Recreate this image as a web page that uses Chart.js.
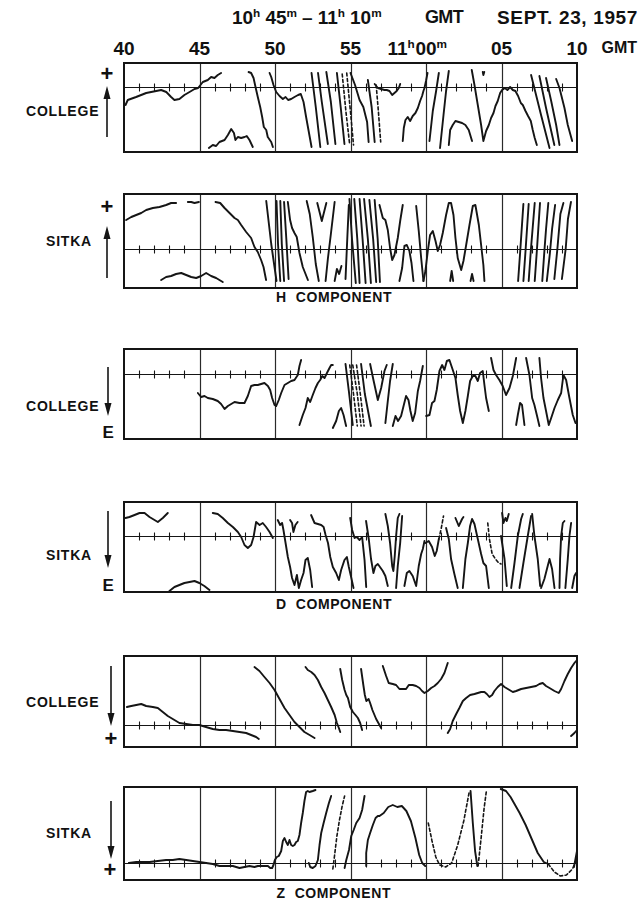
<!DOCTYPE html>
<html>
<head>
<meta charset="utf-8">
<script src="https://cdn.jsdelivr.net/npm/chart.js@4/dist/chart.umd.min.js"></script>
<style>
html,body{margin:0;padding:0;background:#fff;}
#page{position:relative;width:643px;height:908px;overflow:hidden;font-family:"Liberation Sans",Arial,sans-serif;font-weight:bold;color:#111;}
.t{position:absolute;white-space:nowrap;line-height:1;}
.sup{font-size:0.62em;position:relative;top:-0.6em;}
canvas{position:absolute;}
</style>
</head>
<body>
<div id="page">
  <div id="labels"></div>
  <svg id="arrows" width="643" height="908" style="position:absolute;left:0;top:0"></svg>
</div>
<script>
// Time axis: minutes after 10h (40 … 70 = 11h10m)
const sectionMinutes = [45, 50, 55, 60, 65];
const labelMinutes   = [40, 45, 50, 55, 60, 65, 70];
const minuteLabels   = ['40', '45', '50', '55', '00', '05', '10'];

// ---------- H component, College (deflection, + up) ----------
const collegeHSolid = [
  [[40.1,-18],[40.25,-13],[40.8,-10],[41.47,-6],[42.13,-4],[42.46,-3],[42.8,-5],[43.12,-10],[43.34,-13],[43.67,-12],[44.0,-8],[44.34,-5],[44.67,-2],[44.91,-1],[45.22,5],[45.55,7],[45.77,10],[45.99,9],[46.21,12],[46.43,14]],
  [[45.62,-61],[45.88,-58],[46.1,-59],[46.32,-55],[46.66,-53],[46.88,-48],[47.1,-42],[47.28,-46],[47.38,-53],[47.54,-50],[47.76,-51],[47.98,-50],[48.13,-49],[48.31,-53],[48.53,-60]],
  [[48.25,15],[48.42,14],[48.58,9],[48.71,0],[48.86,-10],[49.02,-20],[49.15,-30],[49.26,-40],[49.42,-43],[49.52,-50],[49.75,-55],[49.86,-60]],
  [[49.64,14],[49.75,10],[49.9,2],[50.08,-5],[50.3,-9],[50.52,-12],[50.7,-10],[50.87,-13],[51.07,-12],[51.29,-10],[51.53,-8],[51.71,-7],[51.89,-15],[52.06,-30],[52.24,-45],[52.42,-60]],
  [[52.42,14],[52.7,-20],[53.0,-60]],
  [[52.85,14],[53.1,-15],[53.5,-57]],
  [[53.4,15],[53.7,-15],[54.0,-57]],
  [[54.1,14],[54.35,-20],[54.6,-57]],
  [[55.0,14],[55.3,2],[55.6,-13],[55.85,-20],[56.1,-35],[56.2,-55]],
  [[56.15,7],[56.4,-20],[56.6,-55]],
  [[56.6,3],[56.81,-1],[57.03,-2],[57.25,-3],[57.4,-3],[57.58,-4],[57.76,-8],[57.91,-6],[58.06,-4],[58.2,-1],[58.29,3]],
  [[58.46,-54],[58.53,-41],[58.64,-33],[58.79,-30],[58.95,-34],[59.12,-29],[59.3,-26],[59.46,-21],[59.61,-14],[59.74,-9],[59.83,-4],[59.9,-1],[60.0,6],[60.1,14]],
  [[60.23,-54],[60.45,-24],[60.67,-4],[60.85,14]],
  [[60.93,-61],[61.16,-28],[61.33,-4],[61.51,16]],
  [[61.51,-58],[61.6,-43],[61.77,-38],[61.95,-34],[62.17,-35],[62.39,-36],[62.61,-38],[62.83,-43],[63.05,-54]],
  [[63.03,17],[63.21,2],[63.43,-18],[63.65,-38],[63.8,-54],[63.98,-44],[64.16,-38],[64.31,-31],[64.47,-26],[64.6,-19],[64.75,-14],[64.91,-6],[65.04,-3],[65.22,-1],[65.39,-3],[65.57,0],[65.75,-3],[65.92,-4],[66.1,-9],[66.28,-16],[66.41,-18],[66.59,-24],[66.76,-29],[66.94,-34],[67.07,-43],[67.2,-51],[67.34,-58]],
  [[63.76,15],[63.8,12],[63.86,15]],
  [[66.96,12],[67.62,-28],[68.18,-61]],
  [[67.51,11],[67.95,-21],[68.5,-58]],
  [[67.95,9],[68.29,-14],[68.62,-38],[68.84,-58]],
  [[68.62,8],[68.84,-1],[69.17,-21],[69.39,-38],[69.68,-54]]
];
const collegeHDashed = [
  [[54.45,13],[54.7,-25],[54.95,-58]],
  [[54.75,14],[55.0,-25],[55.2,-58]],
  [[56.7,2],[56.85,-25],[57.0,-55]]
];

// ---------- H component, Sitka ----------
const sitkaHSolid = [
  [[40.14,29],[40.48,32],[40.81,34],[41.14,36],[41.47,39],[41.91,41],[42.35,42],[42.79,44],[43.12,46],[43.45,46]],
  [[44.23,47],[44.45,47],[44.67,46],[44.96,47]],
  [[42.46,-31],[42.79,-28],[43.12,-27],[43.45,-25],[43.79,-24],[44.12,-26],[44.45,-28],[44.78,-29],[45.11,-27],[45.44,-24],[45.77,-27],[46.1,-29],[46.54,-33]],
  [[46.06,47],[46.37,46],[46.66,41],[46.99,36],[47.32,31],[47.54,29],[47.76,24],[48.09,17],[48.42,11],[48.64,2],[48.86,-3],[49.08,-11],[49.24,-18],[49.41,-31]],
  [[49.42,48],[49.75,5],[50.1,-32]],
  [[50.1,48],[50.2,5],[50.35,-32]],
  [[50.35,48],[50.45,5],[50.6,-32]],
  [[50.6,47],[50.75,10],[50.9,-30]],
  [[50.85,47],[51.0,29],[51.13,21],[51.29,16],[51.44,12],[51.62,-4],[51.84,-18],[52.18,-31]],
  [[52.1,48],[52.3,35],[52.5,12],[52.7,-15],[52.9,-32]],
  [[52.8,46],[53.1,28],[53.4,46]],
  [[53.95,47],[53.7,15],[53.5,-10],[53.35,-32]],
  [[53.95,-32],[54.1,-20],[54.25,-25],[54.4,-17]],
  [[54.67,-30],[54.8,15],[54.89,44]],
  [[54.93,50],[55.1,10],[55.35,-34]],
  [[55.25,50],[55.45,10],[55.6,-34]],
  [[55.6,50],[55.8,10],[56.0,-34]],
  [[55.9,50],[56.15,10],[56.35,-34]],
  [[56.25,49],[56.5,10],[56.7,-33]],
  [[56.6,49],[56.8,10],[56.95,-33]],
  [[56.92,44],[57.14,31],[57.31,29],[57.47,19],[57.62,1],[57.76,-11],[57.91,-6],[58.13,11],[58.29,28],[58.46,44]],
  [[58.24,-32],[58.42,-19],[58.57,3],[58.73,4],[58.9,-2],[59.04,-14],[59.17,-32]],
  [[59.35,43],[59.52,18],[59.68,-9],[59.83,-32]],
  [[59.83,-32],[59.96,-22],[60.12,-2],[60.27,14],[60.45,18],[60.63,8],[60.78,-2],[60.93,4],[61.11,16],[61.33,34],[61.51,46],[61.66,46],[61.82,34],[61.95,11],[62.1,-9],[62.33,-21],[62.48,-12],[62.66,4],[62.88,24],[63.1,43],[63.27,44],[63.5,24],[63.65,4],[63.8,-16],[63.87,-32]],
  [[61.6,-32],[61.7,-22],[61.8,-32]],
  [[62.95,-32],[63.05,-25],[63.15,-32]],
  [[66.1,-32],[66.25,0],[66.45,45]],
  [[66.45,-32],[66.6,0],[66.8,45]],
  [[66.8,-32],[66.95,0],[67.2,46]],
  [[67.2,-32],[67.35,0],[67.55,46]],
  [[67.7,-32],[67.85,0],[67.95,20],[68.1,46]],
  [[68.0,-32],[68.2,-5],[68.35,20],[68.55,44]],
  [[68.5,-30],[68.7,0],[68.9,35],[69.1,46]],
  [[69.0,-30],[69.25,0],[69.4,30],[69.6,47]]
];
const sitkaHDashed = [];

// ---------- D component, College (+ toward E = down) ----------
const collegeDSolid = [
  [[44.89,-19],[45.11,-23],[45.33,-22],[45.55,-24],[45.88,-25],[46.21,-27],[46.43,-30],[46.66,-35],[46.88,-32],[47.1,-30],[47.32,-28],[47.65,-29],[47.98,-29],[48.2,-22],[48.42,-12],[48.64,-11],[48.86,-11],[49.08,-10],[49.3,-9],[49.53,-12],[49.68,-16],[49.81,-24],[49.97,-31],[50.08,-32],[50.25,-26],[50.41,-19],[50.63,-11],[50.85,-9],[51.07,-7],[51.29,-6],[51.51,-1],[51.62,8],[51.73,14]],
  [[51.62,-51],[51.84,-41],[52.02,-34],[52.17,-24],[52.33,-28],[52.5,-21],[52.68,-14],[52.84,-9],[52.99,-6],[53.13,-2],[53.28,-4],[53.44,1],[53.61,6],[53.72,9],[53.83,9]],
  [[53.83,-54],[54.05,-47],[54.23,-37],[54.38,-34],[54.54,-41],[54.71,-52]],
  [[54.67,10],[54.89,-17],[55.15,-51]],
  [[55.7,10],[55.95,-20],[56.35,-52]],
  [[56.3,10],[56.52,-6],[56.81,-26],[57.03,-14],[57.25,3],[57.4,9]],
  [[57.8,10],[57.62,-7],[57.47,-27],[57.31,-49]],
  [[57.8,-52],[57.98,-42],[58.15,-47],[58.35,-42],[58.53,-31],[58.68,-22],[58.84,-26],[58.97,-37],[59.12,-47],[59.28,-39],[59.46,-17],[59.61,-7],[59.79,8]],
  [[60.01,-42],[60.23,-41],[60.4,-29],[60.56,-27],[60.71,-16],[60.89,3],[61.07,9],[61.22,4],[61.38,13],[61.55,14],[61.73,6],[61.95,-4],[62.1,-21],[62.26,-37],[62.44,-49],[62.61,-37],[62.77,-22],[62.92,-7],[63.1,-2],[63.27,-2],[63.43,-7],[63.58,1],[63.76,3],[63.87,-11],[63.98,-24],[64.16,-37]],
  [[64.31,16],[64.47,4],[64.64,-1],[64.86,-6],[65.08,-12],[65.3,-21],[65.53,-14],[65.75,-2],[65.97,16]],
  [[65.97,-51],[66.08,-41],[66.23,-29],[66.36,-31],[66.52,-51]],
  [[66.63,16],[66.85,-1],[67.03,-24],[67.18,-31],[67.34,-41],[67.51,-52]],
  [[67.51,16],[67.62,-4],[67.78,-24],[67.95,-37],[68.13,-51],[68.29,-44],[68.51,-34],[68.73,-26],[68.95,-19],[69.1,-1],[69.28,-6],[69.5,-24],[69.72,-41],[69.9,-49]]
];
const collegeDDashed = [
  [[54.95,9],[55.2,-20],[55.45,-52]],
  [[55.15,9],[55.45,-20],[55.7,-52]],
  [[55.4,9],[55.65,-20],[55.9,-52]]
];

// ---------- D component, Sitka ----------
const sitkaDSolid = [
  [[40.1,18],[40.36,19],[40.7,21],[41.03,23],[41.36,23],[41.69,19],[42.02,16],[42.24,14],[42.57,18],[42.9,23]],
  [[43.01,-55],[43.34,-51],[43.67,-49],[44.0,-47],[44.34,-46],[44.67,-45],[44.99,-47],[45.32,-50],[45.66,-54]],
  [[45.88,23],[46.21,22],[46.54,18],[46.88,13],[47.21,9],[47.54,4],[47.76,-1],[47.98,-9],[48.2,-12],[48.42,-9],[48.58,-1],[48.75,14],[48.98,11],[49.19,13],[49.41,9],[49.64,4],[49.86,-2]],
  [[50.18,16],[50.34,11],[50.47,13],[50.56,6],[50.7,-7],[50.85,-21],[51.0,-31],[51.13,-42],[51.29,-49],[51.45,-39],[51.58,-52],[51.73,-44],[51.89,-37],[52.02,-24],[52.17,-22],[52.33,-34],[52.46,-51]],
  [[51.0,16],[51.13,13],[51.22,4],[51.35,11],[51.5,14]],
  [[52.39,21],[52.62,13],[52.84,12],[53.06,11],[53.22,9],[53.35,1],[53.51,-7],[53.66,-21],[53.83,-31],[54.05,-37],[54.23,-44],[54.38,-34],[54.6,-24],[54.76,-21],[54.89,-31],[55.04,-41],[55.2,-52]],
  [[54.98,18],[55.11,6],[55.27,-2],[55.42,-1],[55.6,-4],[55.77,-1],[55.93,-24],[56.04,-51]],
  [[56.03,15],[56.21,-3],[56.36,-23],[56.52,-37],[56.65,-30],[56.81,-28],[57.0,-32],[57.14,-35],[57.31,-40],[57.47,-50]],
  [[57.31,22],[57.47,10],[57.62,-7],[57.76,-30],[57.84,-35],[57.93,-20],[58.02,0],[58.13,18],[58.24,22]],
  [[58.42,20],[58.29,-7],[58.13,-30],[58.02,-52]],
  [[58.57,-50],[58.73,-37],[58.9,-35],[59.12,-40],[59.35,-50],[59.52,-30],[59.68,-18],[59.79,-13],[59.9,-5]],
  [[59.96,-7],[60.18,-5],[60.4,-11],[60.58,-20],[60.71,-15],[60.85,-3]],
  [[61.33,8],[61.51,-3],[61.66,-23],[61.88,-38],[62.1,-52]],
  [[61.95,18],[62.17,10],[62.39,17],[62.48,19]],
  [[62.44,-52],[62.61,-23],[62.77,-7],[62.92,10],[63.05,17],[63.21,12],[63.43,-3],[63.65,-18],[63.8,-27],[63.98,-30],[64.16,-52]],
  [[65.04,23],[65.13,13],[65.26,18],[65.35,15],[65.48,22]],
  [[64.97,0],[65.2,-23],[65.35,-50]],
  [[65.64,-52],[65.86,-27],[66.08,0],[66.3,17],[66.41,22]],
  [[66.19,-52],[66.45,-27],[66.74,0],[66.96,20]],
  [[67.03,22],[67.18,0],[67.4,-23],[67.56,-50]],
  [[67.62,-52],[67.84,-43],[68.06,-30],[68.18,-23],[68.35,-33],[68.51,-52]],
  [[68.84,-52],[68.88,-23],[68.95,0],[69.06,13],[69.17,15]],
  [[69.23,-52],[69.39,-23],[69.5,0],[69.61,13]],
  [[69.68,-52],[69.83,-40],[69.94,-37]]
];
const sitkaDDashed = [
  [[60.85,-3],[61.0,7],[61.16,20]],
  [[64.09,13],[64.2,-3],[64.38,-18],[64.6,-23],[64.82,-27],[64.97,-28]]
];

// ---------- Z component, College (+ down) ----------
const collegeZSolid = [
  [[40.19,18],[40.48,19],[40.81,20],[41.14,21],[41.47,19],[41.91,18],[42.24,17],[42.57,13],[42.9,9],[43.23,6],[43.67,2],[44.12,1],[44.56,0],[44.99,0],[45.43,-2],[45.88,-4],[46.32,-5],[46.76,-5],[47.21,-6],[47.65,-7],[48.09,-8],[48.42,-10],[48.75,-12],[48.93,-14]],
  [[48.64,58],[48.97,54],[49.3,48],[49.64,42],[49.97,35],[50.3,26],[50.63,17],[50.96,10],[51.29,3],[51.62,-2],[51.95,-7],[52.29,-10],[52.62,-13]],
  [[52.02,58],[52.17,55],[52.4,53],[52.62,50],[52.84,45],[53.06,38],[53.28,32],[53.5,25],[53.72,18],[53.95,10],[54.1,2],[54.23,-3],[54.32,-7]],
  [[54.32,56],[54.45,45],[54.61,35],[54.72,30],[54.83,27],[54.98,18],[55.16,13],[55.33,10],[55.49,7],[55.64,2],[55.77,-5]],
  [[55.7,56],[55.85,40],[55.95,30],[56.05,24],[56.2,26],[56.3,22],[56.45,15],[56.7,6],[57.03,-3]],
  [[57.14,59],[57.36,49],[57.53,42],[57.8,41],[58.02,40],[58.24,36],[58.46,36],[58.68,36],[58.86,40],[59.12,40],[59.35,39],[59.57,37],[59.74,34],[59.9,32],[60.12,34],[60.34,37],[60.56,39],[60.78,42],[61.0,46],[61.22,52],[61.44,62]],
  [[61.44,-8],[61.6,-4],[61.77,4],[62.0,11],[62.21,17],[62.44,24],[62.66,27],[62.92,30],[63.21,31],[63.43,32],[63.65,33],[63.87,33],[64.03,31],[64.2,28],[64.38,30],[64.53,34],[64.75,38],[64.97,41],[65.2,38],[65.42,36],[65.75,33],[65.97,34],[66.3,36],[66.63,37],[66.96,38],[67.29,39],[67.51,41],[67.73,42],[67.95,39],[68.18,37],[68.51,34],[68.79,32],[68.95,36],[69.17,44],[69.39,51],[69.61,57],[69.83,62],[69.94,64]],
  [[69.61,-11],[69.83,-8],[69.94,-6]]
];
const collegeZDashed = [];

// ---------- Z component, Sitka ----------
const sitkaZSolid = [
  [[40.32,0],[40.81,1],[41.25,1],[41.69,1],[42.24,2],[42.79,3],[43.23,3],[43.67,4],[44.12,3],[44.56,2],[45.0,1],[45.44,0],[45.88,-1],[46.32,-3],[46.76,-3],[47.21,-3],[47.65,-5],[47.98,-4],[48.31,-3],[48.64,-4],[48.86,-3],[49.08,-3],[49.3,-3],[49.53,-3],[49.68,-5],[49.81,-5],[49.9,-2],[49.99,3],[50.12,6],[50.25,7],[50.41,12],[50.52,22],[50.63,25],[50.74,21],[50.85,18],[50.96,23],[51.07,18],[51.18,17],[51.29,18],[51.4,21],[51.51,22],[51.62,28],[51.73,40],[51.84,50],[51.95,62],[52.06,71],[52.17,72],[52.28,71],[52.5,72],[52.68,73]],
  [[52.24,0],[52.33,-4],[52.5,-5],[52.68,-3],[52.84,3],[52.95,18],[53.06,30],[53.22,40],[53.39,50],[53.57,60],[53.72,67]],
  [[54.61,-5],[54.72,3],[54.9,13],[55.05,27],[55.21,33],[55.38,40],[55.6,45],[55.77,53],[55.93,67]],
  [[56.04,-3],[56.04,10],[56.15,23],[56.3,30],[56.48,38],[56.66,45],[56.81,47],[56.92,47],[57.2,50],[57.5,56],[57.8,58],[58.1,56],[58.4,57],[58.7,52],[59.0,42],[59.3,25],[59.55,8],[59.75,0],[59.95,-3]],
  [[62.95,72],[63.1,40],[63.25,12],[63.4,-3]],
  [[64.95,74],[65.3,72],[65.6,66],[65.9,58],[66.2,50],[66.6,38],[67.0,24],[67.4,10],[67.8,1],[68.1,-1]],
  [[69.8,-4],[70.0,12]]
];
const sitkaZDashed = [
  [[53.83,-6],[53.94,7],[54.1,27],[54.27,43],[54.45,57],[54.61,67]],
  [[60.15,40],[60.4,22],[60.65,6],[60.9,-2],[61.3,-4],[61.7,0],[62.1,18],[62.5,42],[62.85,70]],
  [[63.45,-3],[63.65,25],[63.85,55],[64.0,72]],
  [[68.1,-1],[68.5,-9],[68.9,-13],[69.3,-12],[69.7,-6],[69.95,3]]
];

// ---------- page layout ----------
const PAD = 3;
const plotLeft = 124, plotRight = 577;
const panels = [
  { top: 63,  bottom: 152, min: -65, max: 24, solid: collegeHSolid, dashed: collegeHDashed },
  { top: 194, bottom: 288, min: -39, max: 55, solid: sitkaHSolid,   dashed: sitkaHDashed },
  { top: 349, bottom: 439, min: -65, max: 25, solid: collegeDSolid, dashed: collegeDDashed },
  { top: 502, bottom: 592, min: -56, max: 34, solid: sitkaDSolid,   dashed: sitkaDDashed },
  { top: 656, bottom: 747, min: -22, max: 69, solid: collegeZSolid, dashed: collegeZDashed },
  { top: 787, bottom: 880, min: -17, max: 76, solid: sitkaZSolid,   dashed: sitkaZDashed }
];
const titleParts = [
  { html: '10<span class="sup">h</span> 45<span class="sup">m</span> – 11<span class="sup">h</span> 10<span class="sup">m</span>', left: 232, right: 382, size: 19 },
  { html: 'GMT', left: 425, right: 463, size: 18 },
  { html: 'SEPT. 23, 1957', left: 497, right: 638, size: 19 }
];
const sideText = [
  { text: 'COLLEGE', left: 26, mid: 111 },
  { text: 'SITKA',   left: 46, mid: 241 },
  { text: 'COLLEGE', left: 26, mid: 406 },
  { text: 'SITKA',   left: 46, mid: 555 },
  { text: 'COLLEGE', left: 26, mid: 702 },
  { text: 'SITKA',   left: 46, mid: 833 }
];
const signs = [
  { text: '+', x: 107, mid: 74 },
  { text: '+', x: 107, mid: 207 },
  { text: 'E', x: 108, mid: 432 },
  { text: 'E', x: 108, mid: 585 },
  { text: '+', x: 111, mid: 739 },
  { text: '+', x: 110, mid: 870 }
];
const arrows = [
  { x: 107, tail: 137, head: 86 },
  { x: 107, tail: 278, head: 226 },
  { x: 108, tail: 367, head: 416 },
  { x: 108, tail: 511, head: 568 },
  { x: 111, tail: 666, head: 726 },
  { x: 111, tail: 801, head: 859 }
];
const componentText = [
  { text: 'H\u00a0\u00a0COMPONENT', mid: 297 },
  { text: 'D\u00a0\u00a0COMPONENT', mid: 604 },
  { text: 'Z\u00a0\u00a0COMPONENT', mid: 893 }
];

const INK = '#151515';

const framePlugin = {
  id: 'frame',
  beforeDatasetsDraw(chart) {
    const { ctx, chartArea: a, scales: { x, y } } = chart;
    ctx.save();
    ctx.strokeStyle = '#2a2a2a';
    ctx.lineWidth = 1.2;
    for (const m of sectionMinutes) {
      const px = Math.round(x.getPixelForValue(m)) + 0.5;
      ctx.beginPath(); ctx.moveTo(px, a.top); ctx.lineTo(px, a.bottom); ctx.stroke();
    }
    const y0 = Math.round(y.getPixelForValue(0)) + 0.5;
    ctx.strokeStyle = INK;
    ctx.lineWidth = 1.1;
    ctx.beginPath(); ctx.moveTo(a.left, y0); ctx.lineTo(a.right, y0); ctx.stroke();
    for (let m = labelMinutes[0] + 1; m < labelMinutes[labelMinutes.length - 1]; m++) {
      if (m % 5 === 0) continue;
      const px = Math.round(x.getPixelForValue(m)) + 0.5;
      ctx.beginPath(); ctx.moveTo(px, y0 - 4); ctx.lineTo(px, y0 + 4); ctx.stroke();
    }
    ctx.restore();
  },
  afterDatasetsDraw(chart) {
    const { ctx, chartArea: a } = chart;
    ctx.save();
    ctx.strokeStyle = INK;
    ctx.lineWidth = 2;
    ctx.strokeRect(a.left, a.top, a.right - a.left, a.bottom - a.top);
    ctx.restore();
  }
};

const page = document.getElementById('page');
const charts = [];

panels.forEach((p) => {
  const cv = document.createElement('canvas');
  const w = plotRight - plotLeft + 2 * PAD;
  const h = p.bottom - p.top + 2 * PAD;
  cv.width = w; cv.height = h;
  cv.style.left = (plotLeft - PAD) + 'px';
  cv.style.top = (p.top - PAD) + 'px';
  cv.style.width = w + 'px';
  cv.style.height = h + 'px';
  page.appendChild(cv);

  const toSet = (trace, dashed) => ({
    data: trace.map(([x, y]) => ({ x, y })),
    showLine: true,
    pointRadius: 0,
    borderColor: INK,
    borderWidth: dashed ? 1.6 : 1.9,
    borderDash: dashed ? [3, 2.5] : [],
    borderJoinStyle: 'round',
    borderCapStyle: 'round',
    fill: false,
    tension: 0
  });

  charts.push(new Chart(cv, {
    type: 'scatter',
    data: { datasets: [...p.solid.map(t => toSet(t, false)), ...p.dashed.map(t => toSet(t, true))] },
    options: {
      responsive: false,
      animation: false,
      devicePixelRatio: 1,
      layout: { padding: PAD },
      plugins: { legend: { display: false }, tooltip: { enabled: false } },
      scales: {
        x: { type: 'linear', min: labelMinutes[0], max: labelMinutes[labelMinutes.length - 1], display: false },
        y: { type: 'linear', min: p.min, max: p.max, display: false }
      }
    },
    plugins: [framePlugin]
  }));
});

// text labels
const labels = document.getElementById('labels');
function addText(html, style) {
  const d = document.createElement('div');
  d.className = 't';
  d.innerHTML = html;
  Object.assign(d.style, style);
  labels.appendChild(d);
  return d;
}

// title line, each part spread to its span
titleParts.forEach(tp => {
  const d = addText(tp.html, { top: '8px', fontSize: tp.size + 'px', left: tp.left + 'px' });
  const chars = d.textContent.length;
  const extra = (tp.right - tp.left) - d.offsetWidth;
  d.style.letterSpacing = (extra / chars) + 'px';
});

// time labels above the first panel, centred on the time lines
const xScale = charts[0].scales.x;
const xOffset = plotLeft - PAD;
labelMinutes.forEach((m, i) => {
  const cx = xOffset + xScale.getPixelForValue(m);
  const d = addText(minuteLabels[i], { top: '39px', fontSize: '19px' });
  d.style.left = (cx - d.offsetWidth / 2) + 'px';
  if (m === 60) {
    const pre = addText('11<span class="sup">h</span>', { top: '39px', fontSize: '19px' });
    pre.style.left = (cx - d.offsetWidth / 2 - pre.offsetWidth - 1) + 'px';
    addText('<span class="sup">m</span>', { top: '39px', fontSize: '19px', left: (cx + d.offsetWidth / 2) + 'px' });
  }
  if (i === labelMinutes.length - 1) {
    addText('GMT', { top: '40px', fontSize: '16px', left: (cx + d.offsetWidth / 2 + 14) + 'px' });
  }
});

sideText.forEach(s => {
  const d = addText(s.text, { fontSize: '14px', letterSpacing: '0.8px', left: s.left + 'px' });
  d.style.top = (s.mid - d.offsetHeight / 2) + 'px';
});
signs.forEach(s => {
  const d = addText(s.text, { fontSize: s.text === '+' ? '22px' : '17px' });
  d.style.left = (s.x - d.offsetWidth / 2) + 'px';
  d.style.top = (s.mid - d.offsetHeight / 2) + 'px';
});
componentText.forEach(c => {
  const d = addText(c.text, { fontSize: '14px', letterSpacing: '0.6px' });
  d.style.left = (334 - d.offsetWidth / 2) + 'px';
  d.style.top = (c.mid - d.offsetHeight / 2) + 'px';
});

// direction arrows
const svg = document.getElementById('arrows');
const NS = 'http://www.w3.org/2000/svg';
arrows.forEach(a => {
  const dir = Math.sign(a.head - a.tail);
  const line = document.createElementNS(NS, 'line');
  line.setAttribute('x1', a.x); line.setAttribute('x2', a.x);
  line.setAttribute('y1', a.tail); line.setAttribute('y2', a.head - dir * 8);
  line.setAttribute('stroke', INK); line.setAttribute('stroke-width', '1.6');
  svg.appendChild(line);
  const head = document.createElementNS(NS, 'polygon');
  head.setAttribute('points', `${a.x},${a.head} ${a.x - 3.5},${a.head - dir * 13} ${a.x + 3.5},${a.head - dir * 13}`);
  head.setAttribute('fill', INK);
  svg.appendChild(head);
});
</script>
</body>
</html>
